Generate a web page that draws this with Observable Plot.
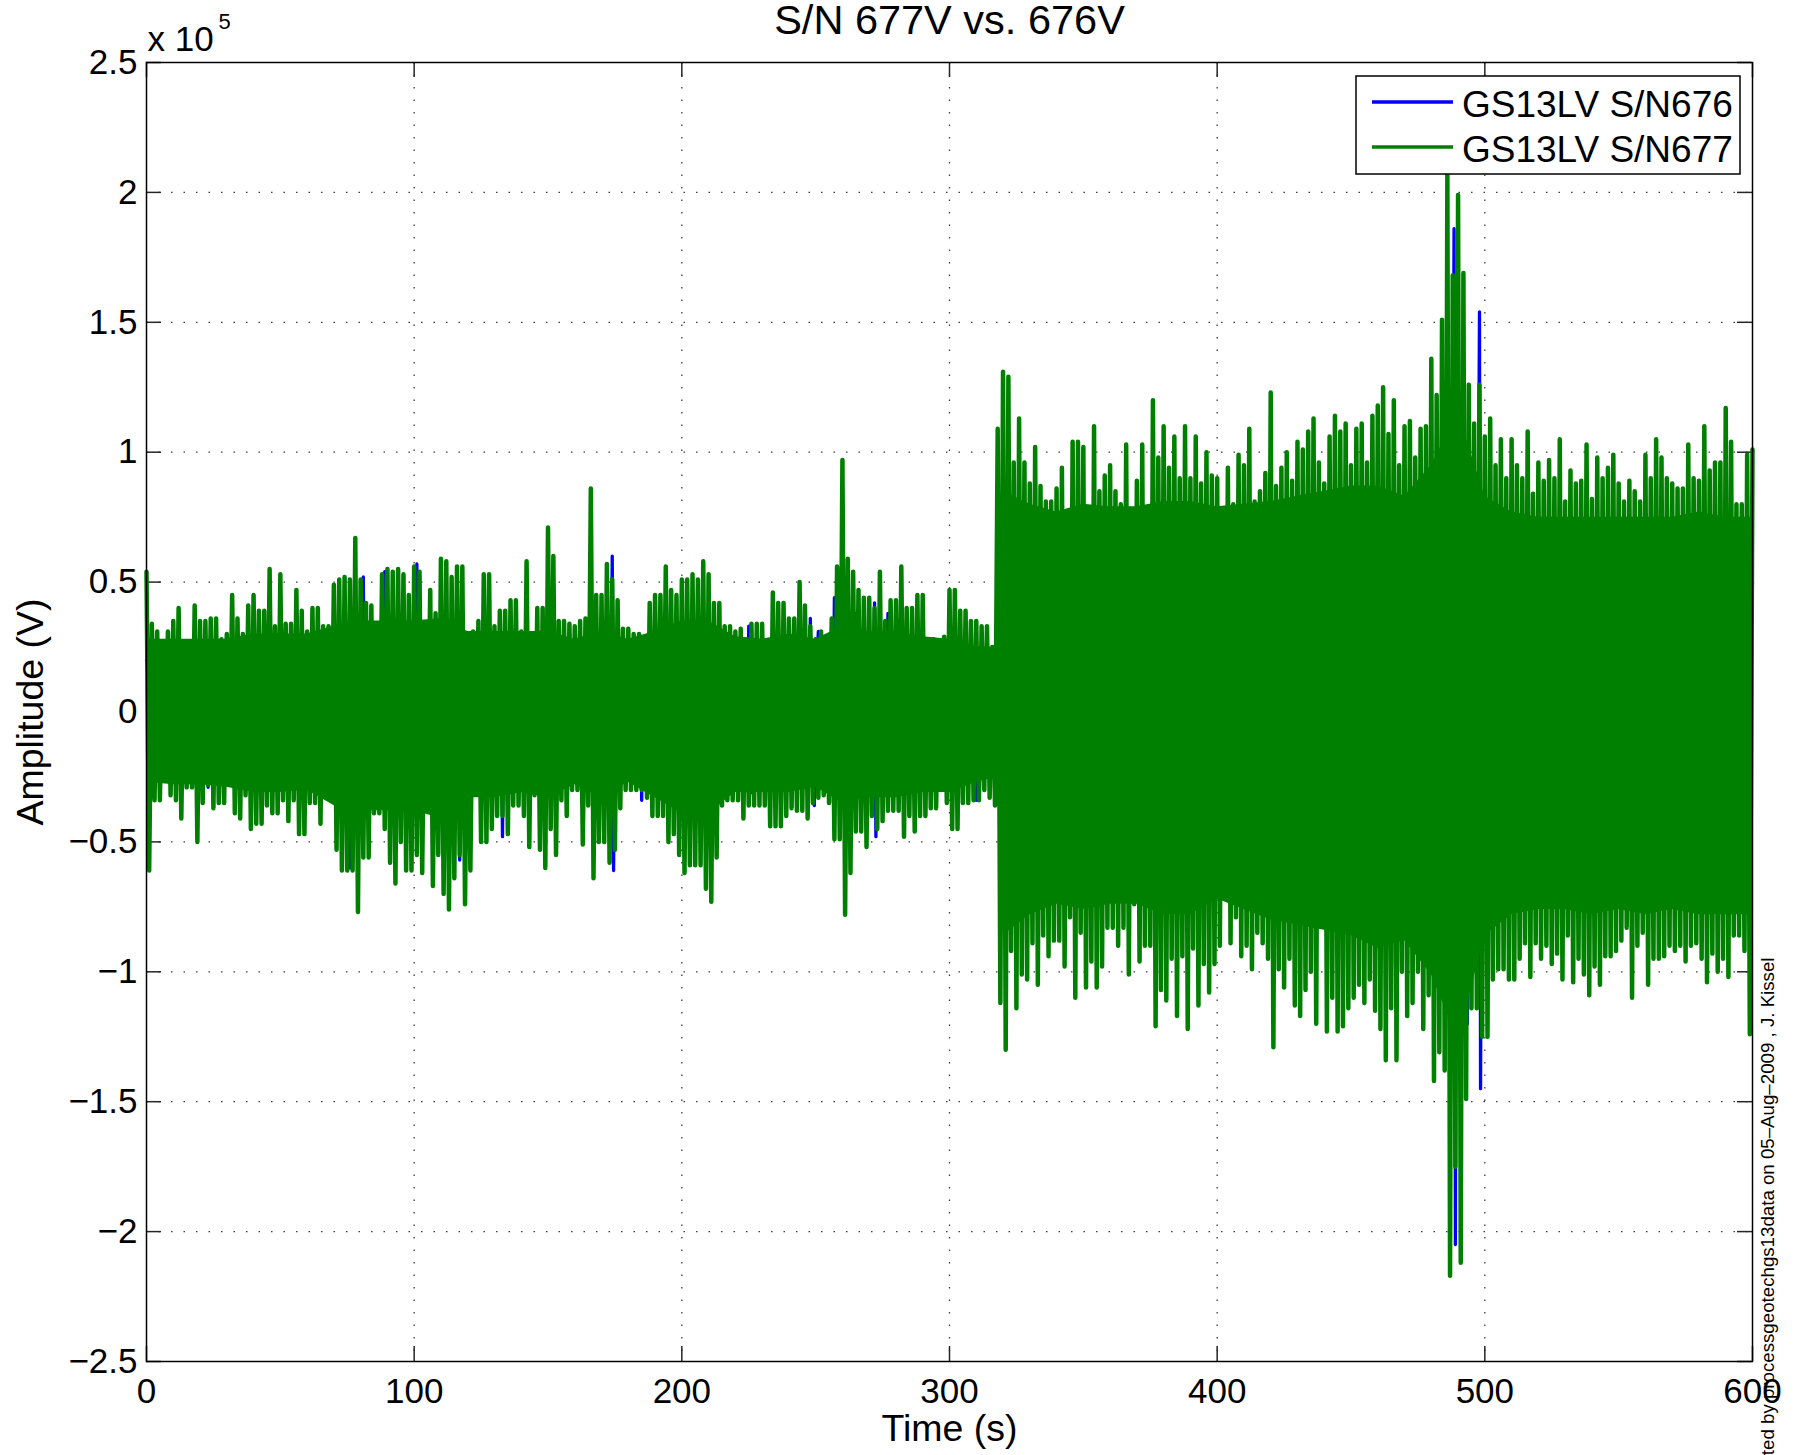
<!DOCTYPE html>
<html>
<head>
<meta charset="utf-8">
<script src="https://cdn.jsdelivr.net/npm/d3@7"></script>
<script src="https://cdn.jsdelivr.net/npm/@observablehq/plot@0.6"></script>
<style>
  html, body { margin: 0; padding: 0; background: #fff; }
  svg { display: block; }
</style>
</head>
<body>
<div id="chart"></div>
<script>
// ---------- DATA (amplitudes in units of 10^5 V, time in s) ----------
const TITLE = "S/N 677V vs. 676V";
const X_LABEL = "Time (s)";
const Y_LABEL = "Amplitude (V)";
const CREDIT = "Plotted by processgeotechgs13data on 05\u2013Aug\u20132009 , J. Kissel";
const seriesNames = ["GS13LV S/N676", "GS13LV S/N677"];
const seriesColors = ["#0000ff", "#008000"];
const xTicks = [0, 100, 200, 300, 400, 500, 600];
const yTicks = [-2.5, -2, -1.5, -1, -0.5, 0, 0.5, 1, 1.5, 2, 2.5];

// S/N677 (green): per 2-s bin, peak high (at bin start) and peak low (1 s later)
const BIN_STEP = 2;
const greenHi = [
  0.54,0.34,0.31,0.26,0.31,0.35,0.40,0.27,0.27,0.41,
  0.35,0.35,0.36,0.36,0.28,0.30,0.45,0.36,0.30,0.41,
  0.45,0.39,0.39,0.55,0.33,0.53,0.34,0.34,0.47,0.39,
  0.31,0.40,0.40,0.33,0.33,0.49,0.51,0.52,0.51,0.67,
  0.51,0.42,0.41,0.32,0.53,0.55,0.54,0.55,0.53,0.45,
  0.56,0.54,0.31,0.47,0.38,0.59,0.58,0.52,0.56,0.56,
  0.28,0.31,0.35,0.53,0.53,0.33,0.39,0.39,0.43,0.43,
  0.31,0.58,0.28,0.40,0.40,0.71,0.60,0.35,0.35,0.34,
  0.33,0.35,0.36,0.86,0.45,0.45,0.57,0.51,0.43,0.32,
  0.32,0.30,0.30,0.25,0.42,0.45,0.45,0.56,0.47,0.45,
  0.51,0.51,0.53,0.51,0.58,0.53,0.42,0.42,0.33,0.33,
  0.31,0.32,0.28,0.34,0.34,0.34,0.26,0.46,0.42,0.42,
  0.36,0.36,0.50,0.41,0.33,0.28,0.31,0.27,0.36,0.56,
  0.97,0.59,0.54,0.47,0.44,0.44,0.40,0.54,0.35,0.43,
  0.43,0.56,0.40,0.40,0.45,0.45,0.28,0.28,0.21,0.29,
  0.47,0.47,0.39,0.39,0.35,0.35,0.33,0.33,0.25,1.09,
  1.31,1.29,0.96,1.13,0.96,0.88,1.02,0.87,0.81,0.81,
  0.86,0.94,0.70,1.04,1.04,1.02,0.78,1.10,0.85,0.91,
  0.95,0.85,0.80,1.03,0.75,0.89,1.03,0.78,1.20,0.98,
  1.10,0.94,1.06,0.90,1.10,0.90,1.06,0.88,1.00,0.91,
  0.90,0.76,0.94,0.80,0.99,0.95,1.09,0.81,0.85,0.92,
  1.23,0.87,0.94,1.00,0.89,1.04,1.01,1.08,1.13,0.96,
  0.88,1.06,1.14,1.08,1.11,0.95,1.09,1.11,0.96,1.14,
  1.18,1.25,1.07,1.20,0.95,1.10,1.12,0.98,1.09,1.10,
  1.36,1.22,1.51,2.07,1.68,1.99,1.69,1.26,1.11,1.26,
  1.06,1.13,0.95,1.05,0.90,1.05,0.95,0.90,1.08,0.84,
  0.96,0.89,0.97,0.90,1.05,0.81,0.93,0.88,0.89,1.03,
  0.82,0.98,0.90,0.94,0.99,0.88,0.81,0.89,0.85,0.81,
  0.99,0.90,1.05,0.98,0.90,0.88,0.86,0.86,1.03,0.90,
  0.89,1.10,0.93,0.96,0.96,1.17,1.04,0.80,0.80,0.99
];
const greenLo = [
  -0.61,-0.34,-0.34,-0.24,-0.32,-0.34,-0.41,-0.29,-0.29,-0.50,
  -0.35,-0.28,-0.37,-0.35,-0.35,-0.25,-0.39,-0.41,-0.32,-0.45,
  -0.43,-0.43,-0.36,-0.39,-0.39,-0.34,-0.42,-0.34,-0.47,-0.47,
  -0.35,-0.35,-0.43,-0.33,-0.33,-0.53,-0.61,-0.61,-0.61,-0.77,
  -0.56,-0.56,-0.39,-0.39,-0.45,-0.58,-0.66,-0.50,-0.61,-0.61,
  -0.55,-0.62,-0.34,-0.67,-0.55,-0.70,-0.76,-0.64,-0.55,-0.74,
  -0.61,-0.28,-0.50,-0.50,-0.45,-0.40,-0.40,-0.47,-0.36,-0.36,
  -0.40,-0.52,-0.32,-0.53,-0.60,-0.45,-0.55,-0.34,-0.40,-0.30,
  -0.30,-0.51,-0.36,-0.64,-0.50,-0.50,-0.58,-0.53,-0.37,-0.30,
  -0.30,-0.30,-0.30,-0.33,-0.40,-0.40,-0.40,-0.50,-0.47,-0.55,
  -0.62,-0.59,-0.59,-0.59,-0.68,-0.73,-0.56,-0.36,-0.34,-0.34,
  -0.34,-0.41,-0.36,-0.36,-0.36,-0.36,-0.44,-0.44,-0.44,-0.40,
  -0.37,-0.38,-0.38,-0.41,-0.35,-0.33,-0.32,-0.35,-0.49,-0.49,
  -0.78,-0.62,-0.46,-0.46,-0.52,-0.40,-0.45,-0.42,-0.38,-0.38,
  -0.38,-0.48,-0.40,-0.46,-0.40,-0.40,-0.37,-0.37,-0.30,-0.35,
  -0.45,-0.45,-0.35,-0.35,-0.34,-0.34,-0.30,-0.33,-0.36,-1.12,
  -1.30,-0.92,-1.14,-1.01,-1.03,-0.89,-1.05,-0.86,-0.94,-0.88,
  -0.88,-0.98,-0.79,-1.10,-0.85,-1.06,-0.96,-1.06,-0.98,-0.83,
  -0.83,-0.90,-0.83,-1.01,-0.74,-0.96,-0.90,-0.90,-1.21,-1.07,
  -1.11,-0.95,-1.17,-0.94,-1.22,-0.91,-1.13,-0.97,-1.08,-0.97,
  -0.90,-0.69,-0.89,-0.79,-0.94,-0.90,-0.99,-0.85,-0.89,-0.95,
  -1.29,-0.99,-1.06,-0.95,-1.13,-1.17,-1.07,-1.00,-1.20,-0.78,
  -1.23,-1.10,-1.23,-1.21,-1.14,-1.10,-1.05,-1.12,-1.03,-1.15,
  -1.22,-1.34,-1.14,-1.34,-1.00,-1.17,-1.12,-1.00,-1.22,-1.09,
  -1.42,-1.31,-1.38,-2.17,-1.75,-2.12,-1.49,-1.14,-1.14,-1.25,
  -1.25,-1.03,-0.99,-0.99,-1.03,-1.03,-0.95,-0.89,-1.02,-0.89,
  -0.95,-0.90,-0.97,-0.93,-1.03,-0.86,-1.04,-0.95,-1.01,-1.09,
  -0.98,-1.05,-0.94,-0.94,-0.92,-0.88,-0.83,-1.10,-0.90,-0.85,
  -1.05,-0.95,-0.95,-0.94,-0.90,-0.92,-0.90,-0.96,-0.90,-0.89,
  -0.95,-1.04,-0.93,-1.00,-0.95,-1.02,-0.86,-0.86,-0.92,-1.24
];
const GREEN_END_TIME = 600;
const GREEN_END_VALUE = 1.01;

// S/N677 dense oscillation band (solid-looking core), read every 10 s
const coreTime = [
  0,10,20,30,40,50,60,70,80,90,100,110,120,130,140,150,160,170,180,190,
  200,210,220,230,240,250,260,270,280,290,300,310,318,
  320,330,340,350,360,370,380,390,400,410,420,430,440,450,460,470,480,490,
  500,510,520,530,540,550,560,570,580,590,600
];
const coreTop = [
  0.28,0.28,0.28,0.28,0.30,0.30,0.30,0.33,0.35,0.35,0.35,0.36,0.31,0.31,0.31,0.31,0.28,0.31,0.28,0.31,
  0.35,0.35,0.29,0.28,0.30,0.28,0.33,0.31,0.31,0.29,0.28,0.25,0.25,
  0.85,0.80,0.77,0.80,0.79,0.79,0.81,0.81,0.79,0.80,0.81,0.83,0.85,0.87,0.87,0.83,0.95,1.15,
  0.83,0.77,0.75,0.75,0.75,0.75,0.75,0.75,0.77,0.75,0.75
];
const coreBottom = [
  -0.27,-0.28,-0.28,-0.29,-0.31,-0.31,-0.30,-0.36,-0.38,-0.38,-0.38,-0.41,-0.33,-0.33,-0.31,-0.33,-0.28,-0.33,-0.27,-0.33,
  -0.39,-0.39,-0.31,-0.31,-0.31,-0.29,-0.35,-0.33,-0.33,-0.31,-0.31,-0.27,-0.25,
  -0.86,-0.78,-0.74,-0.76,-0.74,-0.74,-0.78,-0.78,-0.72,-0.76,-0.80,-0.82,-0.84,-0.86,-0.91,-0.88,-1.01,-1.26,
  -0.86,-0.78,-0.76,-0.76,-0.78,-0.76,-0.78,-0.76,-0.78,-0.78,-0.78
];

// S/N676 (blue): mostly hidden under green; samples where it shows
const blueTime = [
  0,5,10,15,20,22.5,23,23.5,25,30,
  35,40,45,50,55,60,65,70,72.5,73,
  73.5,75.5,76,76.5,80,80.5,81,81.5,85,88.5,
  89,89.5,90.5,91,91.5,95,100.5,101,101.5,103.5,
  104,104.5,110,115,116.5,117,117.5,120,123.5,124,
  124.5,130,132.5,133,133.5,140,145,150,155,160,
  165,170,173.5,174,174.5,175,180,184.5,185,185.5,
  190,195,200,205,210,215,220,224.5,225,226,
  226.5,230,235,240,245,247.5,248,248.5,249.5,250,
  251,251.5,256.5,257,257.5,260,264.5,265,265.5,271.5,
  272,272.5,273,276.5,277,277.5,282.5,283,283.5,290,
  295,297.5,298,298.5,305,309.5,310,310.5,315.5,316,
  316.5,319,320,325,330,335,340,345,350,355,
  360,365,370,375,380,385,390,395,400,405,
  410,415,420,425,430,435,440,445,450,455,
  460,465,470,475,480,485,488,488.5,489,489.5,
  493,493.5,494,497.5,498,498.4,499,505,510,515,
  520,525,530,535,540,545,550,555,560,565,
  570,575,580,585,590,595,600
];
const blueAmp = [
  0.2,-0.2,0.2,-0.2,0.2,0.1,-0.29,0.1,0.2,-0.2,
  0.2,-0.2,0.2,-0.2,0.2,-0.2,0.2,-0.2,0.1,-0.60,
  0.1,0.1,-0.60,0.1,-0.1,-0.1,0.52,-0.1,0.1,-0.1,
  0.54,-0.1,0.1,-0.58,0.1,-0.1,-0.1,0.57,-0.1,0.1,
  -0.36,0.1,-0.1,0.1,0.1,-0.57,0.1,-0.1,0.1,-0.32,
  0.1,-0.1,0.1,-0.48,0.1,-0.1,0.1,-0.1,0.1,-0.1,
  0.1,-0.1,-0.1,0.60,-0.61,0.1,-0.1,0.1,-0.34,0.1,
  -0.1,0.1,-0.1,0.1,-0.1,0.1,-0.1,-0.1,0.33,-0.31,
  0.1,-0.1,0.1,-0.1,0.1,-0.1,0.36,-0.1,-0.36,0.1,
  0.31,-0.1,-0.1,0.44,-0.1,0.1,-0.1,0.38,-0.1,-0.1,
  0.42,-0.48,0.1,-0.1,0.38,-0.1,0.1,-0.34,0.1,-0.1,
  0.1,0.1,-0.22,0.1,-0.1,0.1,-0.34,0.1,-0.1,0.2,
  -0.1,0.5,-0.5,0.5,-0.5,0.5,-0.5,0.5,-0.5,0.5,
  -0.5,0.5,-0.5,0.5,-0.5,0.5,-0.5,0.5,-0.5,0.5,
  -0.5,0.5,-0.5,0.5,-0.5,0.5,-0.5,0.5,-0.5,0.5,
  -0.5,0.5,-0.5,0.5,-0.5,0.5,0.5,1.86,-2.05,0.5,
  -0.5,-1.20,0.5,0.5,1.54,-1.45,0.5,-0.5,0.5,-0.5,
  0.5,-0.5,0.5,-0.5,0.5,-0.5,0.5,-0.5,0.5,-0.5,
  0.5,-0.5,0.5,-0.5,0.5,-0.5,0.5
];

// ---------- BUILD TABLES ----------
const greenData = [];
greenHi.forEach((hi, i) => {
  greenData.push({t: i * BIN_STEP, v: hi});
  greenData.push({t: i * BIN_STEP + BIN_STEP / 2, v: greenLo[i]});
});
greenData.push({t: GREEN_END_TIME, v: GREEN_END_VALUE});
const coreData = coreTime.map((t, i) => ({t, hi: coreTop[i], lo: coreBottom[i]}));
const blueData = blueTime.map((t, i) => ({t, v: blueAmp[i]}));

// ---------- LAYOUT ----------
const W = 1797, H = 1455;
const ML = 146, MR = 45, MT = 62, MB = 94;
const frameW = W - ML - MR, frameH = H - MT - MB;
const FONT = "'Liberation Sans', Arial, Helvetica, sans-serif";
const fmt = d => (d < 0 ? "\u2212" : "") + Math.abs(d);
const gridStyle = {stroke: "#3c3c3c", strokeOpacity: 1, strokeWidth: 1.3, strokeDasharray: "1.5,11"};
const tickStyle = {stroke: "#262626", strokeWidth: 1.5};

const plot = Plot.plot({
  width: W, height: H,
  marginLeft: ML, marginRight: MR, marginTop: MT, marginBottom: MB,
  style: {fontFamily: FONT, fontSize: "35px", background: "#fff", color: "#000"},
  x: {domain: [0, 600]},
  y: {domain: [-2.5, 2.5]},
  marks: [
    Plot.gridX(xTicks.slice(1, -1), gridStyle),
    Plot.gridY(yTicks.slice(1, -1), gridStyle),
    Plot.tickX(xTicks, {x: d => d, ...tickStyle, insetTop: frameH - 15}),
    Plot.tickX(xTicks, {x: d => d, ...tickStyle, insetBottom: frameH - 15}),
    Plot.tickY(yTicks, {y: d => d, ...tickStyle, insetRight: frameW - 15}),
    Plot.tickY(yTicks, {y: d => d, ...tickStyle, insetLeft: frameW - 15}),
    Plot.line(blueData, {x: "t", y: "v", stroke: seriesColors[0], strokeWidth: 3.3}),
    Plot.areaY(coreData, {x: "t", y1: "lo", y2: "hi", fill: seriesColors[1]}),
    Plot.line(greenData, {x: "t", y: "v", stroke: seriesColors[1], strokeWidth: 4.5}),
    Plot.frame({stroke: "#000", strokeWidth: 1.5}),
    Plot.axisX(xTicks, {tickSize: 0, tickPadding: 17, fontSize: 35, tickFormat: fmt, label: null}),
    Plot.axisY(yTicks, {tickSize: 0, tickPadding: 9, fontSize: 35, tickFormat: fmt, label: null}),
    Plot.text([TITLE], {text: d => d, frameAnchor: "top", textAnchor: "middle", lineAnchor: "bottom", dy: -29, fontSize: 41.5}),
    Plot.text([X_LABEL], {text: d => d, frameAnchor: "bottom", textAnchor: "middle", lineAnchor: "bottom", dy: 79, fontSize: 37.5}),
    Plot.text([Y_LABEL], {text: d => d, frameAnchor: "left", textAnchor: "middle", lineAnchor: "bottom", rotate: -90, dx: -104, fontSize: 37.5}),
    Plot.text(["x 10"], {text: d => d, frameAnchor: "top-left", textAnchor: "start", lineAnchor: "bottom", dx: 1, dy: -12, fontSize: 35}),
    Plot.text(["5"], {text: d => d, frameAnchor: "top-left", textAnchor: "start", lineAnchor: "bottom", dx: 72, dy: -34, fontSize: 22}),
    Plot.text([CREDIT], {text: d => d, frameAnchor: "top-right", textAnchor: "end", lineAnchor: "bottom", rotate: -90, dx: 21, dy: 895, fontSize: 18.7})
  ]
});

// ---------- LEGEND (inside the axes, top right) ----------
const svg = d3.select(plot);
const lg = svg.append("g");
lg.append("rect").attr("x", 1356).attr("y", 76).attr("width", 384).attr("height", 98)
  .attr("fill", "#fff").attr("stroke", "#000").attr("stroke-width", 1.5);
seriesNames.forEach((name, i) => {
  const y = 102 + i * 45;
  lg.append("line").attr("x1", 1372).attr("x2", 1453).attr("y1", y).attr("y2", y)
    .attr("stroke", seriesColors[i]).attr("stroke-width", 3.3);
  lg.append("text").attr("x", 1462).attr("y", y + 15)
    .style("font-family", FONT).style("font-size", "37px").style("text-anchor", "start")
    .attr("fill", "#000").text(name);
});

document.getElementById("chart").appendChild(plot);
</script>
</body>
</html>
